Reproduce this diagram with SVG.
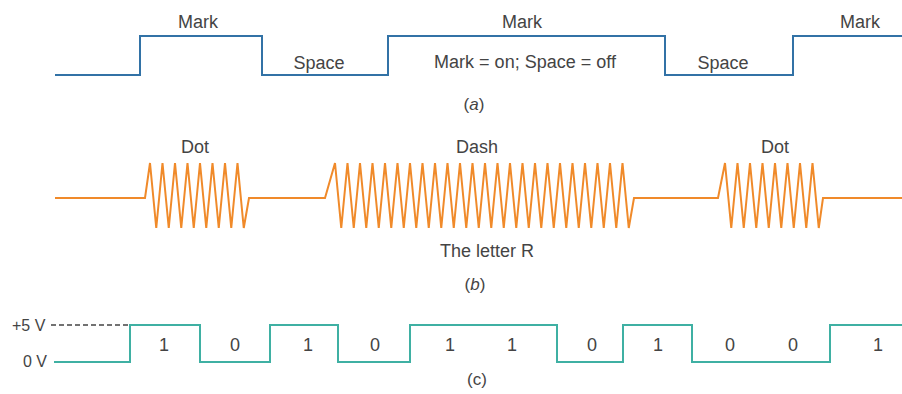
<svg xmlns="http://www.w3.org/2000/svg" width="902" height="394" viewBox="0 0 902 394">
<style>
text{font-family:"Liberation Sans",Arial,sans-serif;font-size:18px;fill:#444;text-anchor:middle}
.v{font-size:16px;text-anchor:start}
.p{font-size:17px}
.w{fill:none;stroke-width:2;stroke-linejoin:miter}
.a{stroke:#3272a6}
.b{stroke:#f08a2a}
.c{stroke:#3fb0a3}
.d{fill:none;stroke:#444;stroke-width:1.3;stroke-dasharray:5 3}
</style>
<rect width="902" height="394" fill="#fff"/>
<g id="panel-a">
<path class="w a" d="M55,75 H140 V36 H262 V75 H388 V36 H665 V75 H793 V36 H902"/>
<text x="198" y="28">Mark</text>
<text x="522" y="28">Mark</text>
<text x="860" y="28">Mark</text>
<text x="319" y="69">Space</text>
<text x="723" y="69">Space</text>
<text x="525" y="68">Mark = on; Space = off</text>
<text class="p" x="474" y="110">(<tspan font-style="italic">a</tspan>)</text>
</g>
<g id="panel-b">
<path class="w b" d="M55,198 H145 L150,163
l6.25,65 l6.25,-65 l6.25,65 l6.25,-65 l6.25,65 l6.25,-65 l6.25,65 l6.25,-65 l6.25,65 l6.25,-65
l6.25,65 l6.25,-65 l6.25,65 l6.25,-65
l6.25,65 L249,198 H325 L335,163
l6.25,65 l6.25,-65 l6.25,65 l6.25,-65 l6.25,65 l6.25,-65 l6.25,65 l6.25,-65 l6.25,65 l6.25,-65
l6.25,65 l6.25,-65 l6.25,65 l6.25,-65 l6.25,65 l6.25,-65 l6.25,65 l6.25,-65 l6.25,65 l6.25,-65
l6.25,65 l6.25,-65 l6.25,65 l6.25,-65 l6.25,65 l6.25,-65 l6.25,65 l6.25,-65 l6.25,65 l6.25,-65
l6.25,65 l6.25,-65 l6.25,65 l6.25,-65 l6.25,65 l6.25,-65 l6.25,65 l6.25,-65 l6.25,65 l6.25,-65
l6.25,65 l6.25,-65 l6.25,65 l6.25,-65 l6.25,65 l6.25,-65
l6.25,65 L634,198 H718 L725,163
l6.25,65 l6.25,-65 l6.25,65 l6.25,-65 l6.25,65 l6.25,-65 l6.25,65 l6.25,-65 l6.25,65 l6.25,-65
l6.25,65 l6.25,-65 l6.25,65 l6.25,-65
l6.25,65 L823,198 H902"/>
<text x="195" y="153">Dot</text>
<text x="477" y="153">Dash</text>
<text x="775" y="153">Dot</text>
<text x="487" y="257">The letter R</text>
<text class="p" x="475" y="290">(<tspan font-style="italic">b</tspan>)</text>
</g>
<g id="panel-c">
<path class="d" d="M51,325 H130"/>
<path class="w c" d="M54,362 H130 V325 H200 V362 H270 V325 H338 V362 H410 V325 H557 V362 H623 V325 H692 V362 H830 V325 H902"/>
<text class="v" x="12" y="331">+5 V</text>
<text class="v" x="23" y="367">0 V</text>
<text x="164" y="351">1</text>
<text x="235" y="351">0</text>
<text x="308" y="351">1</text>
<text x="375" y="351">0</text>
<text x="450" y="351">1</text>
<text x="512" y="351">1</text>
<text x="592" y="351">0</text>
<text x="658" y="351">1</text>
<text x="730" y="351">0</text>
<text x="793" y="351">0</text>
<text x="878" y="351">1</text>
<text class="p" x="477" y="385">(c)</text>
</g>
</svg>
